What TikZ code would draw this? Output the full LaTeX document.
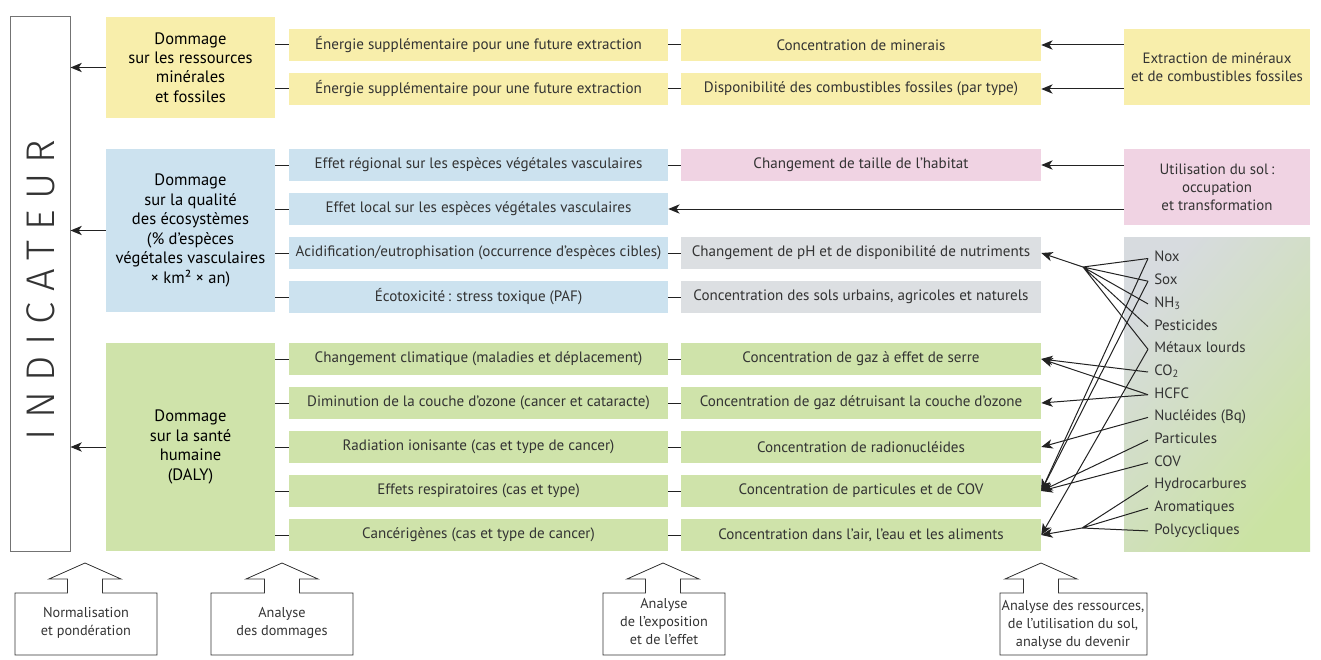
\documentclass[tikz,border=0pt]{standalone}
\usepackage{fontspec}
\setmainfont{PT Sans}
\IfFontExistsTF{Fira Sans Light}
  {\newfontfamily\thinfont{Fira Sans Light}[LetterSpace=26]}
  {\newfontfamily\thinfont{Fira Sans}[LetterSpace=26]}
\usetikzlibrary{arrows.meta}

\definecolor{cyel}{HTML}{F8EEAB}
\definecolor{cblu}{HTML}{CCE2EF}
\definecolor{cgrn}{HTML}{CFE3AA}
\definecolor{cpnk}{HTML}{F0D3E3}
\definecolor{cgry}{HTML}{DCDFE2}
\definecolor{shgry}{HTML}{D7DBDF}
\definecolor{shgrn}{HTML}{CBE3A3}
\definecolor{ink}{HTML}{333333}
\definecolor{linec}{HTML}{222222}

\tikzset{
  basefont/.style={font=\fontsize{11.2}{13.5}\selectfont},
  rowfont/.style={font=\fontsize{11.3}{13.5}\selectfont},
  rowL/.style={fill=#1, minimum width=284.25pt, minimum height=24pt, inner sep=0pt, text=ink, rowfont},
  rowR/.style={fill=#1, minimum width=270pt, minimum height=24pt, inner sep=0pt, text=ink, rowfont},
  dmg/.style={fill=#1, minimum width=126.75pt, inner sep=0pt, align=center, text=black,
              font=\fontsize{12.4}{14.6}\selectfont},
  src/.style={fill=#1, minimum width=139.5pt, minimum height=57pt, inner sep=0pt, align=center,
              text=ink, basefont},
  link/.style={draw=linec, line width=0.75pt},
  arr/.style={link, -{Stealth[length=8.5pt,width=7pt,inset=2.4pt]}},
  subst/.style={anchor=west, inner xsep=4.5pt, inner ysep=0pt, text height=7.8pt, text depth=2.6pt,
                text=ink, basefont},
  footbox/.style={draw=ink, line width=0.6pt},
  foottext/.style={align=center, text=ink, font=\fontsize{10.7}{13.5}\selectfont},
}

% outline of a box with an upward block arrow: left, right, arrow axis
\newcommand\footshape[3]{%
  \draw[footbox] (#1,655) -- (#1,593) -- ({#3-17.5},593) -- ({#3-17.5},579) -- ({#3-36},579)
    -- (#3,563) -- ({#3+36},579) -- ({#3+17.5},579) -- ({#3+17.5},593) -- (#2,593) -- (#2,655) -- cycle;}

\begin{document}
\begin{tikzpicture}[x=0.75pt,y=-0.75pt]
\useasboundingbox (0,0) rectangle (1321,660);

% indicator column
\node[draw=black!55, line width=0.75pt, minimum width=45pt, minimum height=400.5pt, inner sep=0pt] (ind) at (40,284) {};
\node[rotate=90, text=ink, font=\thinfont\fontsize{30}{30}\selectfont] (indtxt) at (41,290) {INDICATEUR};

% damage categories
\node[dmg=cyel, minimum height=75.75pt] (d1) at (190.5,67.5) {Dommage\\sur les ressources\\minérales\\et fossiles};
\node[dmg=cblu, minimum height=122.25pt] (d2) at (190.5,230.5) {Dommage\\sur la qualité\\des écosystèmes\\(\% d’espèces\\végétales vasculaires\\× km² × an)};
\node[dmg=cgrn, minimum height=156pt] (d3) at (190.5,447) {Dommage\\sur la santé\\humaine\\(DALY)};

% effect column
\node[rowL=cyel] (m1) at (478.5,45) {Énergie supplémentaire pour une future extraction};
\node[rowL=cyel] (m2) at (478.5,89) {Énergie supplémentaire pour une future extraction};
\node[rowL=cblu] (m3) at (478.5,165) {Effet régional sur les espèces végétales vasculaires};
\node[rowL=cblu] (m4) at (478.5,209) {Effet local sur les espèces végétales vasculaires};
\node[rowL=cblu] (m5) at (478.5,253) {Acidification/eutrophisation (occurrence d’espèces cibles)};
\node[rowL=cblu] (m6) at (478.5,297) {Écotoxicité\,: stress toxique (PAF)};
\node[rowL=cgrn] (m7) at (478.5,359) {Changement climatique (maladies et déplacement)};
\node[rowL=cgrn] (m8) at (478.5,403) {Diminution de la couche d’ozone (cancer et cataracte)};
\node[rowL=cgrn] (m9) at (478.5,447) {Radiation ionisante (cas et type de cancer)};
\node[rowL=cgrn] (m10) at (478.5,491) {Effets respiratoires (cas et type)};
\node[rowL=cgrn] (m11) at (478.5,535) {Cancérigènes (cas et type de cancer)};

% exposure column
\node[rowR=cyel] (c1) at (861,45) {Concentration de minerais};
\node[rowR=cyel] (c2) at (861,89) {Disponibilité des combustibles fossiles (par type)};
\node[rowR=cpnk] (c3) at (861,165) {Changement de taille de l’habitat};
\node[rowR=cgry] (c5) at (861,253) {Changement de pH et de disponibilité de nutriments};
\node[rowR=cgry] (c6) at (861,297) {Concentration des sols urbains, agricoles et naturels};
\node[rowR=cgrn] (c7) at (861,359) {Concentration de gaz à effet de serre};
\node[rowR=cgrn] (c8) at (861,403) {Concentration de gaz détruisant la couche d’ozone};
\node[rowR=cgrn] (c9) at (861,447) {Concentration de radionucléides};
\node[rowR=cgrn] (c10) at (861,491) {Concentration de particules et de COV};
\node[rowR=cgrn] (c11) at (861,535) {Concentration dans l’air, l’eau et les aliments};

% sources
\node[src=cyel] (s1) at (1217,67) {Extraction de minéraux\\et de combustibles fossiles};
\node[src=cpnk] (s2) at (1217,187) {Utilisation du sol\,:\\occupation\\et transformation};
\node[minimum width=139.5pt, minimum height=235.5pt, inner sep=0pt,
      top color=shgry, bottom color=shgrn, shading angle=50] (s3) at (1217,394) {};

% emitted substances
\node[subst] (nox)   at (1148,258.5) {Nox};
\node[subst] (sox)   at (1148,281.2) {Sox};
\node[subst] (nh3)   at (1148,303.9) {NH\textsubscript{3}};
\node[subst] (pest)  at (1148,326.6) {Pesticides};
\node[subst] (metal) at (1148,349.3) {Métaux lourds};
\node[subst] (co2)   at (1148,372.0) {CO\textsubscript{2}};
\node[subst] (hcfc)  at (1148,394.7) {HCFC};
\node[subst] (nucl)  at (1148,417.4) {Nucléides (Bq)};
\node[subst] (part)  at (1148,440.1) {Particules};
\node[subst] (cov)   at (1148,462.8) {COV};
\node[subst] (hydro) at (1148,485.5) {Hydrocarbures};
\node[subst] (arom)  at (1148,508.2) {Aromatiques};
\node[subst] (poly)  at (1148,530.9) {Polycycliques};

% damage -> indicator
\draw[arr] (d1.west) -- (d1.west -| ind.east);
\draw[arr] (d2.west) -- (d2.west -| ind.east);
\draw[arr] (d3.west) -- (d3.west -| ind.east);

% damage -- effect
\foreach \i in {1,2} \draw[link] (m\i.west -| d1.east) -- (m\i.west);
\foreach \i in {3,4,5,6} \draw[link] (m\i.west -| d2.east) -- (m\i.west);
\foreach \i in {7,8,9,10,11} \draw[link] (m\i.west -| d3.east) -- (m\i.west);

% effect -- exposure
\foreach \i in {1,2,3,5,6,7,8,9,10,11} \draw[link] (m\i) -- (c\i);

% sources -> exposure
\draw[arr] (s1.west |- c1.east) -- (c1.east);
\draw[arr] (s1.west |- c2.east) -- (c2.east);
\draw[arr] (s2.west |- c3.east) -- (c3.east);
\draw[arr] (s2.west |- m4.east) -- (m4.east);

% substances -> exposure
\coordinate (jA) at (1083,267);
\coordinate (jB) at (1082,528);
\draw[link] (jA) -- (nox.west)  (jA) -- (sox.west)  (jA) -- (nh3.west)
            (jA) -- (pest.west) (jA) -- (metal.west);
\draw[arr] (jA) -- (c5.east);
\draw[arr] (nox.west) -- (c10.east);
\draw[arr] (sox.west) -- (c10.east);
\draw[arr] (metal.west) -- (c11.east);
\draw[arr] (co2.west) -- (c7.east);
\draw[arr] (hcfc.west) -- (c7.east);
\draw[arr] (hcfc.west) -- (c8.east);
\draw[arr] (nucl.west) -- (c9.east);
\draw[arr] (part.west) -- (c10.east);
\draw[arr] (cov.west) -- (c10.east);
\draw[link] (jB) -- (hydro.west) (jB) -- (arom.west) (jB) -- (poly.west);
\draw[arr] (jB) -- (c11.east);

% analysis steps
\footshape{15}{157}{85}
\footshape{211}{353}{282}
\footshape{603}{725}{663}
\footshape{1000}{1147}{1041}
\node[foottext] (f1) at (86,623) {Normalisation\\et pondération};
\node[foottext] (f2) at (282,623) {Analyse\\des dommages};
\node[foottext] (f3) at (664,622) {Analyse\\de l’exposition\\et de l’effet};
\node[foottext] (f4) at (1073,625) {Analyse des ressources,\\de l’utilisation du sol,\\analyse du devenir};
\end{tikzpicture}
\end{document}
